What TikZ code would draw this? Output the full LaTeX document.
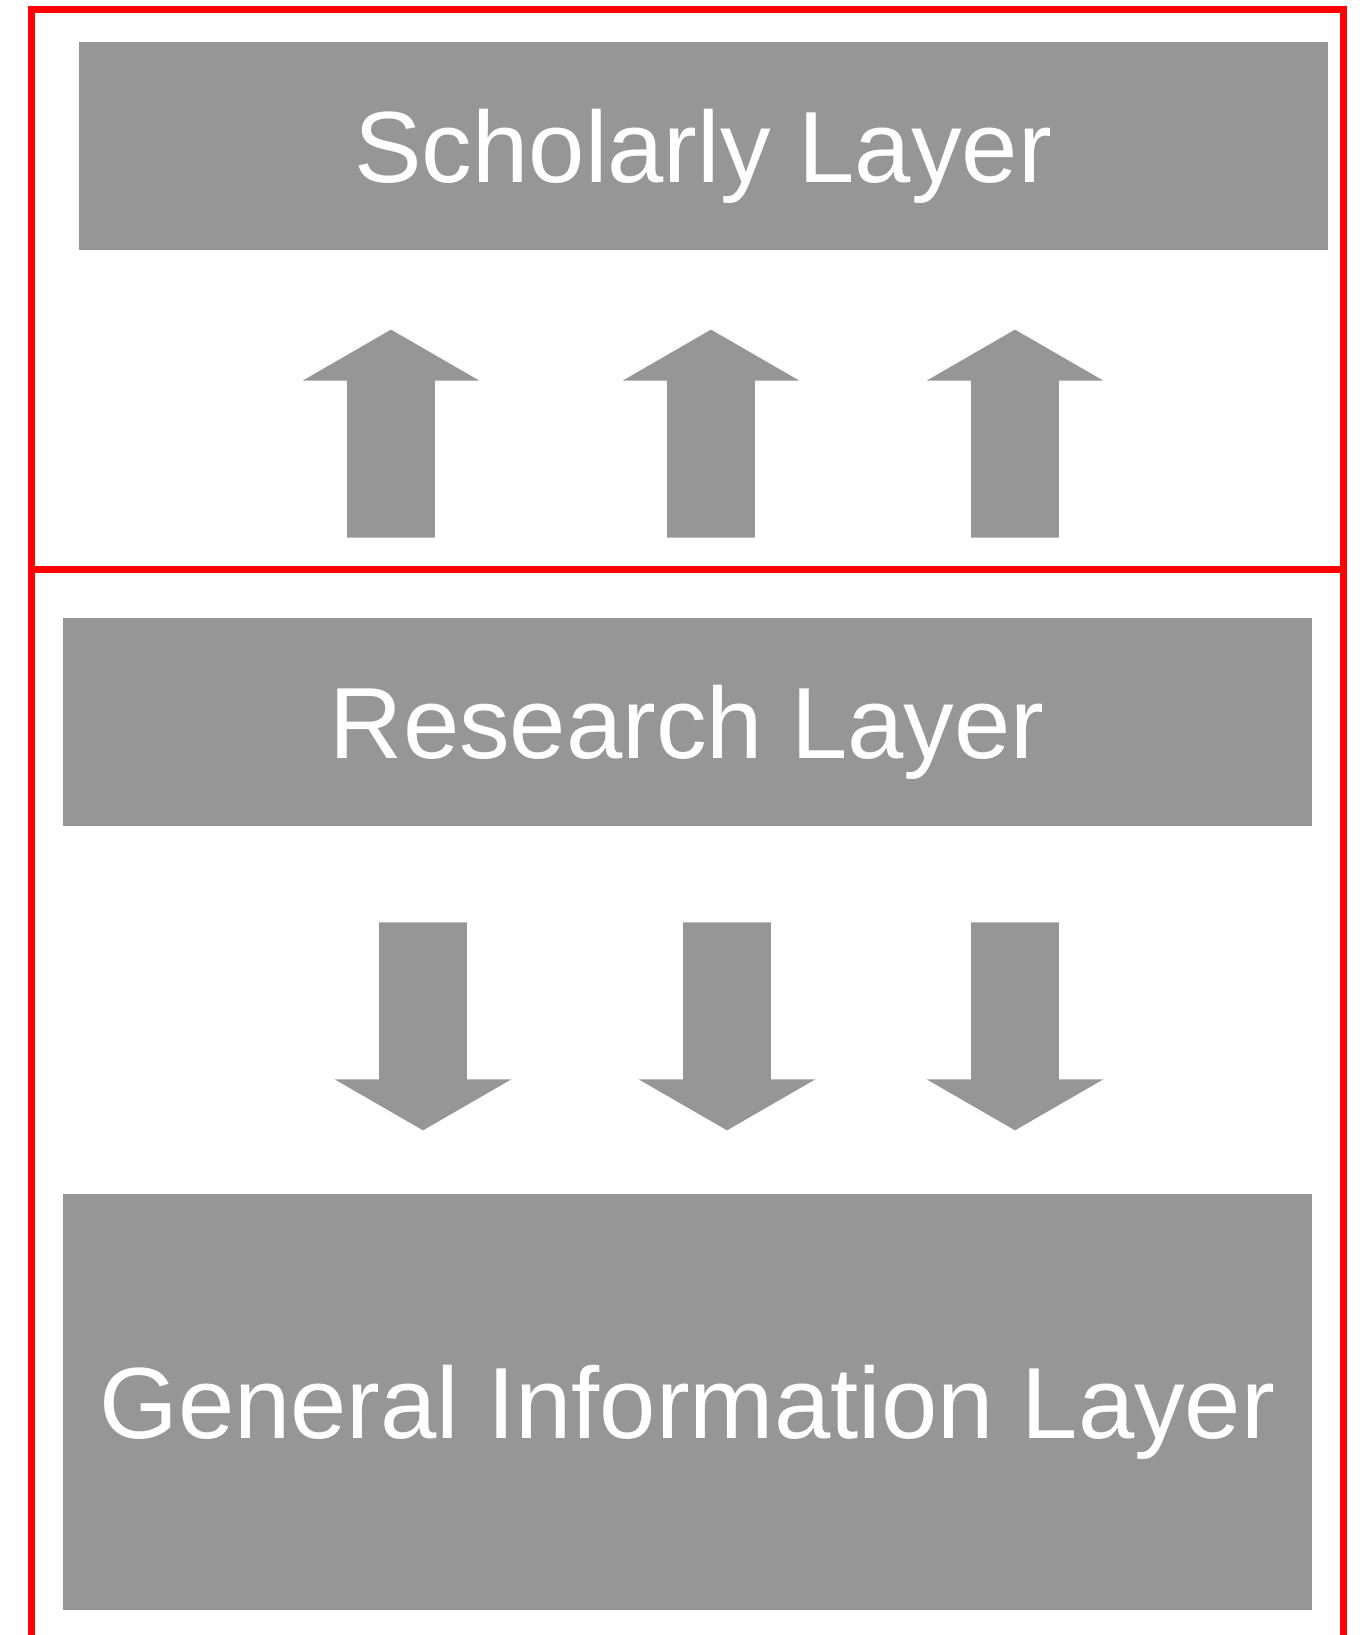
\documentclass[tikz,border=0pt]{standalone}
\usepackage{fontspec}
\setmainfont{Liberation Sans}
\usetikzlibrary{shapes.arrows}

\definecolor{layergray}{RGB}{150,150,150}

\tikzset{
  layer/.style={rectangle,fill=layergray,text=white,inner sep=0pt,
    font=\fontsize{57.6}{64}\selectfont,text height=41.2pt,text depth=0pt},
  flow/.style={single arrow,fill=layergray,inner sep=0.87cm,
    minimum height=4.16cm,anchor=tail,
    single arrow head extend=0.89cm,single arrow tip angle=120},
  flowup/.style={flow,shape border rotate=90},
  flowdown/.style={flow,shape border rotate=270},
  frame/.style={draw=red,line width=0.14cm}
}

\begin{document}
\begin{tikzpicture}
      % ページ全体の大きさ
      \useasboundingbox (0,0) rectangle (27.28,32.7);

      % 赤枠(上段・下段)
      \draw[frame] (0.63,21.3) rectangle (26.87,32.5);
      \draw[frame] (0.63,-0.5) rectangle (26.87,21.3);

      % 各レイヤー
      \node[layer,minimum width=24.97cm,minimum height=4.16cm]
        (scholarly) at (14.065,29.78) {Scholarly Layer};
      \node[layer,minimum width=24.99cm,minimum height=4.16cm]
        (research) at (13.745,18.26) {Research Layer};
      \node[layer,minimum width=24.99cm,minimum height=8.32cm]
        (general) at (13.745,4.66) {General Information Layer};

      % 上向きの矢印(根元の位置で置く)
      \node[flowup] (upa) at (7.82,21.94) {};
      \node[flowup] (upb) at (14.22,21.94) {};
      \node[flowup] (upc) at (20.3,21.94) {};

      % 下向きの矢印
      \node[flowdown] (downa) at (8.46,14.26) {};
      \node[flowdown] (downb) at (14.54,14.26) {};
      \node[flowdown] (downc) at (20.3,14.26) {};
\end{tikzpicture}
\end{document}
